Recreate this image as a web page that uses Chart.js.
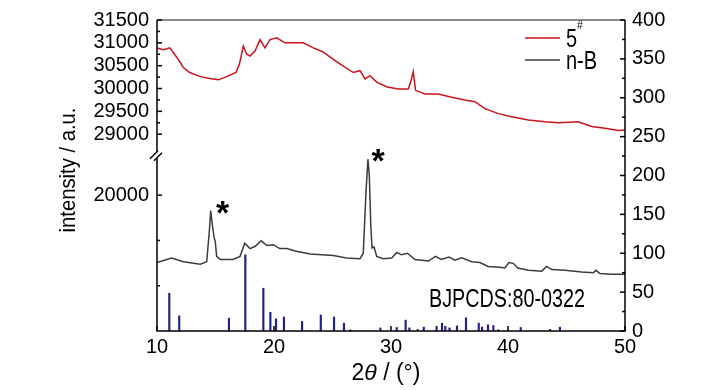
<!DOCTYPE html>
<html><head><meta charset="utf-8">
<script src="https://cdn.jsdelivr.net/npm/chart.js@4.4.1/dist/chart.umd.min.js"></script>
<style>html,body{margin:0;padding:0;background:#fff}</style>
</head><body>
<canvas id="c" width="728" height="390"></canvas>
<script>
// ---- data ----
const redX = [10.0,10.55,11.1,11.7,12.25,12.8,13.7,14.5,15.24,15.95,16.75,17.04,17.38,17.67,17.95,18.38,18.8,19.23,19.66,20.23,20.94,21.65,22.5,23.36,24.2,25.07,25.92,26.78,27.35,27.78,28.2,28.78,29.6,30.62,31.48,31.71,31.9,32.1,32.9,34.04,35.18,36.3,37.17,38.03,39.17,40.3,41.74,43.16,44.3,46.0,47.15,48.3,49.43,50.0];
const redY = [30890,30850,30890,30680,30460,30350,30260,30220,30190,30260,30350,30530,30930,30750,30710,30820,31070,30890,31070,31110,31000,31000,31000,30890,30800,30640,30490,30350,30390,30210,30280,30140,30040,29990,29990,30170,30370,29960,29880,29880,29810,29750,29710,29560,29450,29380,29310,29270,29250,29270,29170,29130,29080,29090];

const blackX = [10.0,11.25,12.25,13.7,14.25,14.47,14.59,14.7,14.87,14.98,15.1,15.4,16.5,17.1,17.5,17.95,18.4,18.9,19.4,19.94,20.5,21.1,21.8,23.1,25.07,26.2,27.35,27.63,27.86,28.03,28.15,28.27,28.38,28.55,28.78,29.35,30.06,30.49,30.9,31.4,32.05,33.2,33.8,34.3,34.96,35.47,36.04,36.9,37.6,38.3,39.3,39.74,40.08,40.45,40.83,41.74,42.88,43.3,43.73,44.87,46.3,47.3,47.5,47.86,48.86,50.0];
const blackY = [88,94,89,86,89,128,155,140,121,115,96,92,92,96,113,106,109,116,110,111,106,106,103,99,97,94,93,100,178,221,199,136,107,108,96,93,94,101,98,100,92,90,96,92,95,91,94,89,88,83,82,81,88,87,81,78,77,83,79,78,76,75,78,74,73,73];

const refX = [11.05,11.9,16.15,17.55,19.09,19.69,20.17,20.85,22.4,24.0,25.13,25.98,26.52,29.09,30.49,31.25,31.57,32.28,32.8,33.9,34.36,34.64,35.0,35.64,36.41,37.5,37.78,38.29,38.75,39.17,41.09,43.6,44.44];
const refY = [48.5,19.4,16.5,98,55,24,15.6,18,12.3,20.6,18,10,1.5,4,4.5,14,4,2,5,6,10,6,4,6.5,17,10,5,8,7,1.5,4.5,2,5];

const xTicks = [10,20,30,40,50];
const leftTopTicks = [29000,29500,30000,30500,31000,31500];
const leftTopMinor = [29250,29750,30250,30750,31250];
const leftLowTicks = [20000];
const leftLowMinor = [15000,10000];
const rightTicks = [0,50,100,150,200,250,300,350,400];
const rightMinor = [25,75,125,175,225,275,325,375];

const seriesNames = ['5', 'n-B'];
const refName = 'BJPCDS:80-0322';
const peakMarks = [[15.6,156],[28.9,222]];
const yTitle = 'intensity / a.u.';

// ---- chart ----
const FAM = "'Liberation Sans', Arial, sans-serif";
const tickFont = {family: FAM, size: 20};
const noGrid = {display: false, drawTicks: false, offset: false};
const setTicks = arr => s => { s.ticks = arr.map(v => ({value: v})); };
const lab = v => String(v);

function condText(ctx, str, x, y, size, sx, style) {
  ctx.save();
  ctx.translate(x, y);
  ctx.scale(sx, 1);
  ctx.font = (style || '') + ' ' + size + 'px ' + FAM;
  ctx.fillText(str, 0, 0);
  const w = ctx.measureText(str).width * sx;
  ctx.restore();
  return w;
}

const decor = {
  id: 'decor',
  afterDraw(chart) {
    const {ctx, chartArea: a} = chart;
    const {x, yTop, yLow, yR} = chart.scales;
    const seg = (x1, y1, x2, y2) => { ctx.beginPath(); ctx.moveTo(x1, y1); ctx.lineTo(x2, y2); ctx.stroke(); };
    ctx.save();
    ctx.lineCap = 'butt';
    ctx.lineWidth = 1.5;
    ctx.strokeStyle = '#666';
    seg(a.left, a.top, a.right, a.top);
    ctx.strokeStyle = '#000';
    const yb = yTop.bottom;
    seg(a.left, a.top, a.left, yb - 4);
    seg(a.left, yb + 2, a.left, a.bottom);
    seg(a.right, a.top, a.right, a.bottom);
    seg(a.left - 0.75, a.bottom, a.right + 0.75, a.bottom);
    // axis break
    seg(a.left - 7, yb + 3, a.left + 1, yb - 5);
    seg(a.left - 3, yb + 5, a.left + 5, yb - 3);
    // inward ticks
    for (const v of xTicks) { const p = x.getPixelForValue(v); seg(p, a.bottom, p, a.bottom - 5); }
    for (const v of leftTopTicks) { const p = yTop.getPixelForValue(v); seg(a.left, p, a.left + 5, p); }
    for (const v of leftTopMinor) { const p = yTop.getPixelForValue(v); seg(a.left, p, a.left + 3, p); }
    for (const v of leftLowTicks) { const p = yLow.getPixelForValue(v); seg(a.left, p, a.left + 5, p); }
    for (const v of leftLowMinor) { const p = yLow.getPixelForValue(v); seg(a.left, p, a.left + 3, p); }
    for (const v of rightTicks) { const p = yR.getPixelForValue(v); seg(a.right, p, a.right - 5, p); }
    for (const v of rightMinor) { const p = yR.getPixelForValue(v); seg(a.right, p, a.right - 3, p); }

    // legend
    const cols = ['#c8141e', '#3c3c3c'];
    const ly = [38, 60];
    ctx.fillStyle = '#000';
    ctx.textAlign = 'left';
    ctx.textBaseline = 'alphabetic';
    for (let i = 0; i < 2; i++) {
      ctx.strokeStyle = cols[i]; ctx.lineWidth = 1.5;
      seg(525, ly[i], 560, ly[i]);
      const w = condText(ctx, seriesNames[i], 566, ly[i] + 8.5, 25, 0.8);
      if (i === 0) condText(ctx, '#', 566 + w, ly[i] - 9, 13, 0.8);
    }

    // peak marks
    for (const [px, py] of peakMarks) {
      ctx.textAlign = 'center';
      ctx.font = 'bold 34px ' + FAM;
      ctx.fillText('*', x.getPixelForValue(px), yR.getPixelForValue(py) + 14);
    }

    // reference label
    ctx.textAlign = 'left';
    condText(ctx, refName, x.getPixelForValue(33.25), yR.getPixelForValue(42.4) + 9.3, 26, 0.76);

    // y title
    ctx.save();
    ctx.translate(75, 170);
    ctx.rotate(-Math.PI / 2);
    ctx.textAlign = 'center';
    ctx.scale(0.92, 1);
    ctx.font = '22px ' + FAM;
    ctx.fillText(yTitle, 0, 0);
    ctx.restore();

    // x title: 2θ / (°)
    ctx.textAlign = 'left';
    const parts = [['2', ''], ['\u03B8', 'italic'], [' / (\u00B0)', '']];
    let tw = 0;
    for (const [s, st] of parts) { ctx.font = st + ' 23px ' + FAM; tw += ctx.measureText(s).width; }
    let cx = 386 - tw / 2;
    for (const [s, st] of parts) { ctx.font = st + ' 23px ' + FAM; ctx.fillText(s, cx, 380); cx += ctx.measureText(s).width; }
    ctx.restore();
  }
};

new Chart(document.getElementById('c'), {
  type: 'line',
  data: {
    datasets: [
      {label: '5#', data: redX.map((v, i) => ({x: v, y: redY[i]})), yAxisID: 'yTop', borderColor: '#c8141e', borderWidth: 1.5, pointRadius: 0, tension: 0},
      {label: 'n-B', data: blackX.map((v, i) => ({x: v, y: blackY[i]})), yAxisID: 'yR', borderColor: '#3c3c3c', borderWidth: 1.5, pointRadius: 0, tension: 0},
      {type: 'bar', label: 'ref', data: refX.map((v, i) => ({x: v, y: refY[i]})), yAxisID: 'yR', backgroundColor: '#1f1f8f', barThickness: 1.5, grouped: false}
    ]
  },
  options: {
    responsive: false, animation: false, devicePixelRatio: 1,
    layout: {padding: {top: 15, left: 0, right: 0, bottom: 0}},
    plugins: {legend: {display: false}, tooltip: {enabled: false}},
    scales: {
      x: {type: 'linear', position: 'bottom', min: 10, max: 50, offset: false, grid: noGrid, border: {display: false},
          afterBuildTicks: setTicks(xTicks), afterFit: s => { s.height = 59; },
          ticks: {callback: lab, font: tickFont, color: '#000', padding: 4, autoSkip: false, maxRotation: 0}},
      yTop: {type: 'linear', position: 'left', stack: 'left', stackWeight: 138, weight: 2, min: 28526, max: 31500,
          grid: noGrid, border: {display: false}, afterBuildTicks: setTicks(leftTopTicks), afterFit: s => { s.width = 157; },
          ticks: {callback: lab, font: tickFont, color: '#000', padding: 8, autoSkip: false}},
      yLow: {type: 'linear', position: 'left', stack: 'left', stackWeight: 178, weight: 1, min: 5000, max: 24348,
          grid: noGrid, border: {display: false}, afterBuildTicks: setTicks(leftLowTicks), afterFit: s => { s.width = 157; },
          ticks: {callback: lab, font: tickFont, color: '#000', padding: 8, autoSkip: false}},
      yR: {type: 'linear', position: 'right', min: 0, max: 400,
          grid: noGrid, border: {display: false}, afterBuildTicks: setTicks(rightTicks), afterFit: s => { s.width = 103; },
          ticks: {callback: lab, font: tickFont, color: '#000', padding: 7, autoSkip: false}}
    }
  },
  plugins: [decor]
});
</script>
</body></html>
